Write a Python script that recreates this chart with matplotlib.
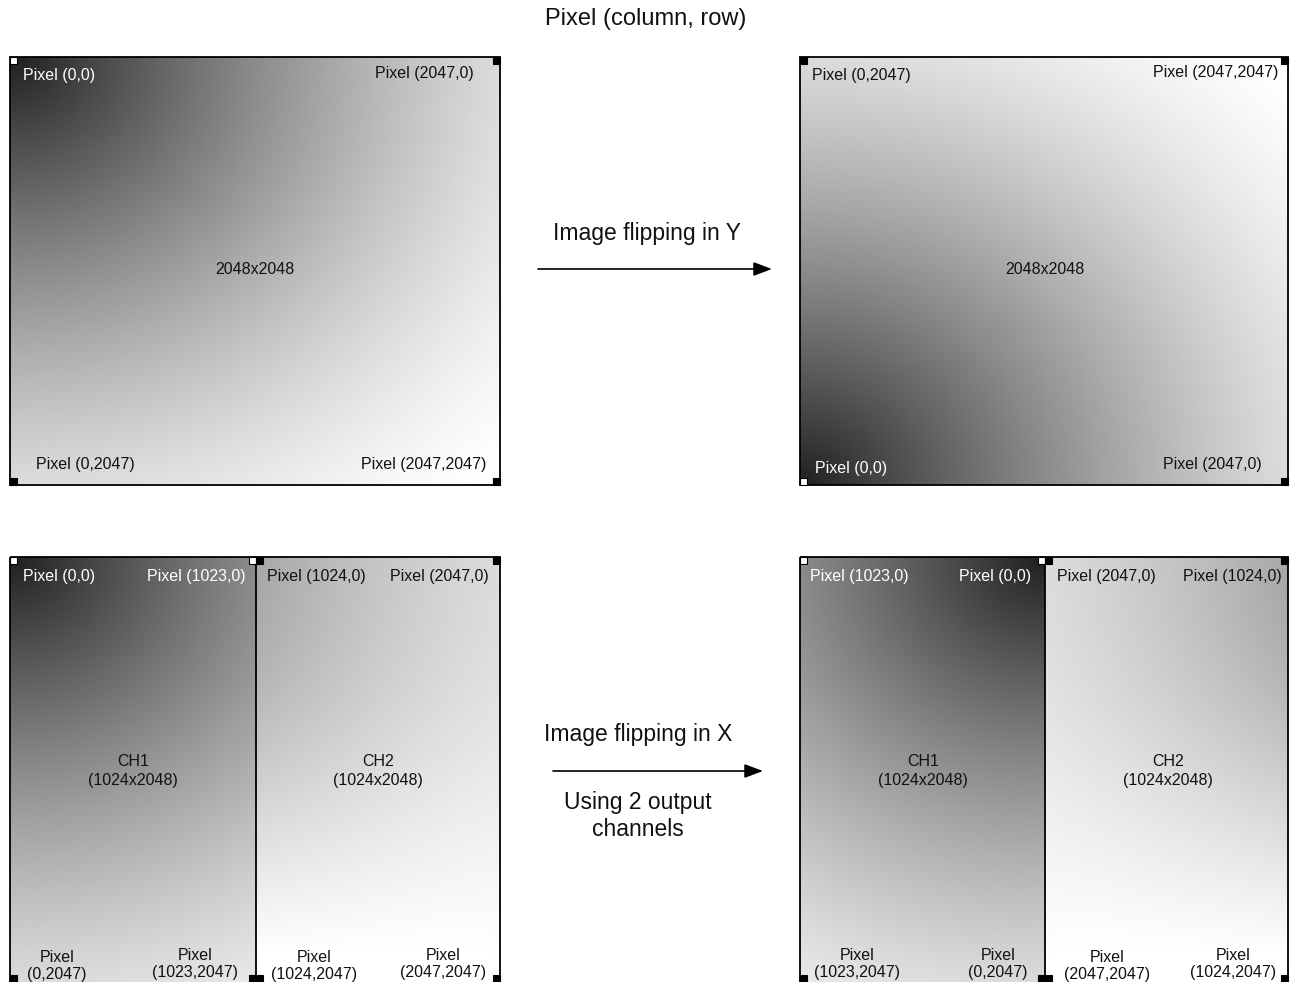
import numpy as np
import matplotlib
matplotlib.use("Agg")
import matplotlib.pyplot as plt
from matplotlib.patches import Rectangle

plt.rcParams['font.family'] = ['Liberation Sans', 'DejaVu Sans']

# ---- content ----
title = "Pixel (column, row)"
center_label = "2048x2048"
flip_y_label = "Image flipping in Y"
flip_x_label = "Image flipping in X"
flip_x_note = ["Using 2 output", "channels"]
ch_labels = ["CH1", "CH2"]
ch_size = "(1024x2048)"

# corner labels (text, x, y, ha, color)
top_left_labels = [("Pixel (0,0)", 23, 75, 'left', 'white'),
                   ("Pixel (2047,0)", 474, 73, 'right', '#111111'),
                   ("Pixel (0,2047)", 36, 465, 'left', '#111111'),
                   ("Pixel (2047,2047)", 486, 465, 'right', '#111111')]
top_right_labels = [("Pixel (0,2047)", 812, 75, 'left', '#111111'),
                    ("Pixel (2047,2047)", 1278, 72, 'right', '#111111'),
                    ("Pixel (0,0)", 815, 468, 'left', 'white'),
                    ("Pixel (2047,0)", 1262, 465, 'right', '#111111')]
bot_left_top = [("Pixel (0,0)", 23, 577, 'left', 'white'),
                ("Pixel (1023,0)", 246, 577, 'right', 'white'),
                ("Pixel (1024,0)", 267, 577, 'left', '#111111'),
                ("Pixel (2047,0)", 489, 577, 'right', '#111111')]
bot_right_top = [("Pixel (1023,0)", 810, 576, 'left', 'white'),
                 ("Pixel (0,0)", 1031, 576, 'right', 'white'),
                 ("Pixel (2047,0)", 1057, 576, 'left', '#111111'),
                 ("Pixel (1024,0)", 1282, 576, 'right', '#111111')]
bot_left_bottom = [("(0,2047)", 57, 957), ("(1023,2047)", 195, 955),
                   ("(1024,2047)", 314, 957), ("(2047,2047)", 443, 955)]
bot_right_bottom = [("(1023,2047)", 857, 955), ("(0,2047)", 998, 955),
                    ("(2047,2047)", 1107, 957), ("(1024,2047)", 1233, 955)]

# gradient levels (0-255)
g_dark = 32
g_span = 223
g_gamma = 1.5
ch2_boost = 28

W, H = 1291, 982
fig = plt.figure(figsize=(W / 100, H / 100), dpi=100)
ax = fig.add_axes([0, 0, 1, 1])
ax.set_xlim(0, W)
ax.set_ylim(H, 0)
ax.axis('off')


def gradient(cols, rows, boost=0.0):
    c, r = np.meshgrid(cols, rows)
    d = np.clip(np.sqrt(c ** 2 + r ** 2) / np.sqrt(2), 0, 1)
    v = g_dark + g_span * (1 - (1 - d) ** g_gamma)
    if boost:
        v = v + boost * (1 - (c - 0.5) * 2)
    return np.clip(v, 0, 255) / 255.0


def show(img, x0, x1, y0, y1):
    ax.imshow(img, cmap='gray', vmin=0, vmax=1, extent=(x0, x1, y1, y0),
              origin='upper', interpolation='bilinear', aspect='auto', zorder=1)


N = 300
lin = np.linspace(0, 1, N)

# top panels
TX0, TX1, TY0, TY1 = 10, 500, 57, 485
RX0, RX1 = 800, 1288
show(gradient(lin, lin), TX0, TX1, TY0, TY1)
show(gradient(lin, lin[::-1]), RX0, RX1, TY0, TY1)

# bottom panels
BY0, BY1 = 557, 985
BLM = 256
BRM = 1045
half1 = np.linspace(0, 0.5, N // 2)
half2 = np.linspace(0.5, 1, N // 2)
show(gradient(half1, lin), TX0, BLM, BY0, BY1)
show(gradient(half2, lin, ch2_boost), BLM, TX1, BY0, BY1)
show(gradient(half1[::-1], lin), RX0, BRM, BY0, BY1)
show(gradient(half2[::-1], lin, ch2_boost), BRM, RX1, BY0, BY1)

lw = 1.3
for (x0, x1, y0, y1) in [(TX0, TX1, TY0, TY1), (RX0, RX1, TY0, TY1),
                         (TX0, TX1, BY0, BY1), (RX0, RX1, BY0, BY1)]:
    ax.add_patch(Rectangle((x0, y0), x1 - x0, y1 - y0, fill=False,
                           edgecolor='black', lw=lw, zorder=3))
for xm in (BLM, BRM):
    ax.plot([xm, xm], [BY0, BY1], color='black', lw=lw, zorder=3)

S = 7


def sq(x, y, white):
    ax.add_patch(Rectangle((x, y), S, S, facecolor='white' if white else 'black',
                           edgecolor='black', lw=0.8, zorder=4))


# top-left panel squares
sq(TX0, TY0, True); sq(TX1 - S, TY0, False)
sq(TX0, TY1 - S, False); sq(TX1 - S, TY1 - S, False)
# top-right panel squares
sq(RX0, TY0, False); sq(RX1 - S, TY0, False)
sq(RX0, TY1 - S, True); sq(RX1 - S, TY1 - S, False)
# bottom panels squares
for (x0, xm, x1) in [(TX0, BLM, TX1), (RX0, BRM, RX1)]:
    sq(x0, BY0, True); sq(xm - S, BY0, True)
    sq(xm, BY0, False); sq(x1 - S, BY0, False)
    by = 975
    sq(x0, by, False); sq(xm - S, by, False)
    sq(xm, by, False); sq(x1 - S, by, False)

fs_small = 11.5
for lst in (top_left_labels, top_right_labels, bot_left_top, bot_right_top):
    for (t, x, y, ha, col) in lst:
        ax.text(x, y, t, ha=ha, va='center', color=col, fontsize=fs_small, zorder=5)

for lst in (bot_left_bottom, bot_right_bottom):
    for (t, x, y) in lst:
        ax.text(x, y, "Pixel", ha='center', va='center', color='#111111',
                fontsize=fs_small, zorder=5)
        ax.text(x, y + 18, t, ha='center', va='center', color='#111111',
                fontsize=fs_small, zorder=5)

ax.text(255, 270, center_label, ha='center', va='center', fontsize=fs_small,
        color='#111111', zorder=5)
ax.text(1045, 270, center_label, ha='center', va='center', fontsize=fs_small,
        color='#111111', zorder=5)

for cx, lab in [(133, ch_labels[0]), (378, ch_labels[1]),
                (923, ch_labels[0]), (1168, ch_labels[1])]:
    ax.text(cx, 761, lab, ha='center', va='center', fontsize=fs_small,
            color='#111111', zorder=5)
    ax.text(cx, 780, ch_size, ha='center', va='center', fontsize=fs_small,
            color='#111111', zorder=5)

ax.text(646, 19, title, ha='center', va='center', fontsize=17, color='#111111')
ax.text(647, 233, flip_y_label, ha='center', va='center', fontsize=16.5, color='#111111')
ax.text(638, 735, flip_x_label, ha='center', va='center', fontsize=16.5, color='#111111')
ax.text(638, 802, flip_x_note[0], ha='center', va='center', fontsize=16.5, color='#111111')
ax.text(638, 829, flip_x_note[1], ha='center', va='center', fontsize=16.5, color='#111111')

aprops = dict(arrowstyle='-|>,head_length=0.8,head_width=0.3', color='black',
              lw=1.2, mutation_scale=14, shrinkA=0, shrinkB=0)
ax.annotate('', xy=(772, 269), xytext=(538, 269), arrowprops=aprops)
ax.annotate('', xy=(763, 771), xytext=(553, 771), arrowprops=aprops)

fig.savefig('out.png', dpi=100, facecolor='white')
